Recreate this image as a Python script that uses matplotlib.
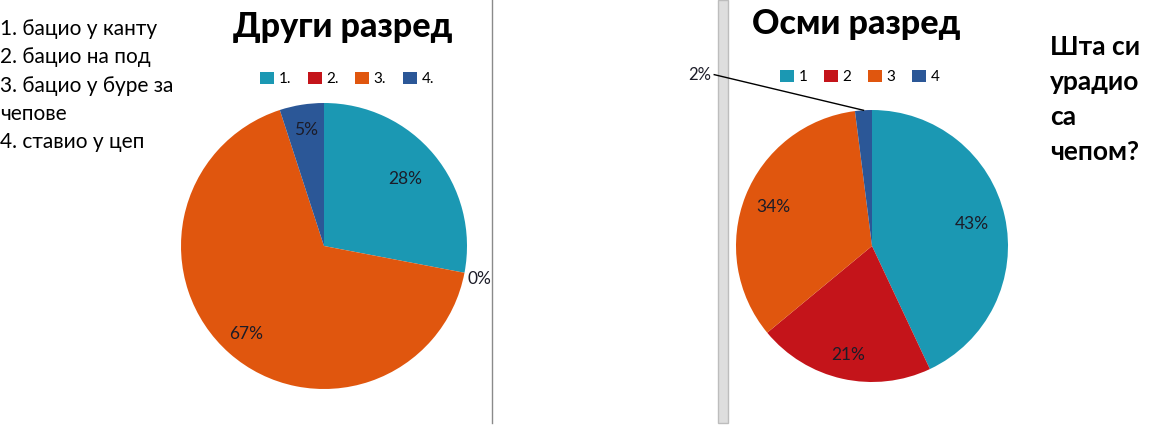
import numpy as np
import matplotlib
matplotlib.use('Agg')
import matplotlib.pyplot as plt
from matplotlib.patches import Patch, Rectangle

plt.rcParams['font.family'] = ['Lato', 'DejaVu Sans']

W, H = 1169, 442

# data
title_left = 'Други разред'
title_right = 'Осми разред'
legend_left = ['1.', '2.', '3.', '4.']
legend_right = ['1', '2', '3', '4']
values_left = [28, 0, 67, 5]
values_right = [43, 21, 34, 2]
answers = ['1. бацио у канту', '2. бацио на под', '3. бацио у буре за',
           'чепове', '4. ставио у цеп']
question = ['Шта си', 'урадио', 'са', 'чепом?']

colors = ['#1b98b3', '#c4141a', '#e0560e', '#2b5797']
label_color = '#1c1c28'


def px_axes(fig, cx, cy, r):
    # axes box in figure fraction from pixel centre / radius
    return fig.add_axes([(cx - r) / W, (H - cy - r) / H, 2 * r / W, 2 * r / H])


def draw_pie(ax, values, dists):
    wedges, _ = ax.pie(values, colors=colors, startangle=90, counterclock=False,
                       radius=1, wedgeprops=dict(linewidth=0))
    ax.set_xlim(-1, 1)
    ax.set_ylim(-1, 1)
    ax.set_aspect('equal')
    ax.axis('off')
    for w, v, d in zip(wedges, values, dists):
        if d is None:
            continue
        mid = np.radians((w.theta1 + w.theta2) / 2)
        ax.text(d * np.cos(mid), d * np.sin(mid), f'{v}%', ha='center', va='center',
                fontsize=12.5, color=label_color, clip_on=False)
    return wedges


fig = plt.figure(figsize=(W / 100, H / 100), dpi=100)

# background layer in pixel coordinates
bg = fig.add_axes([0, 0, 1, 1])
bg.set_xlim(0, W)
bg.set_ylim(H, 0)
bg.axis('off')

bg.plot([492, 492], [0, 423], color='#8a8a8a', lw=1)
bg.add_patch(Rectangle((718, 0), 10, 423, facecolor='#dedede', edgecolor='#bdbdbd', lw=1))

bg.text(343, 37, title_left, ha='center', va='baseline', fontsize=24.5, fontweight='black')
bg.text(856, 34, title_right, ha='center', va='baseline', fontsize=24.5, fontweight='black')

for i, line in enumerate(answers):
    bg.text(0, 29 + i * 28.3, line, ha='left', va='center', fontsize=15)

for i, line in enumerate(question):
    bg.text(1050, 47 + i * 35, line, ha='left', va='center', fontsize=19, fontweight='bold')

# left pie
ax1 = px_axes(fig, 324, 246, 143)
w1 = draw_pie(ax1, values_left, [0.74, None, 0.82, 0.82])
mid = np.radians((w1[1].theta1 + w1[1].theta2) / 2)
ax1.text(1.02 * np.cos(mid), 1.02 * np.sin(mid) - 0.04, f'{values_left[1]}%', ha='left',
         va='center', fontsize=12.5, color=label_color, clip_on=False)

# right pie
ax2 = px_axes(fig, 872, 246, 136)
w2 = draw_pie(ax2, values_right, [0.75, 0.82, 0.78, None])
mid = np.radians((w2[3].theta1 + w2[3].theta2) / 2)
lx, ly = -1.16, 1.26
ax2.plot([lx, np.cos(mid)], [ly, np.sin(mid)], color='black', lw=1, clip_on=False)
ax2.text(lx - 0.02, ly, f'{values_right[3]}%', ha='right', va='center', fontsize=12,
         color=label_color, clip_on=False)

# legends
h1 = [Patch(facecolor=c, edgecolor='none') for c in colors]
fig.legend(h1, legend_left, loc='center', bbox_to_anchor=(347 / W, 1 - 79 / H), ncol=4,
           frameon=False, fontsize=11, handlelength=0.9, handleheight=0.9,
           handletextpad=0.3, columnspacing=1.1)
fig.legend(h1, legend_right, loc='center', bbox_to_anchor=(860 / W, 1 - 77 / H), ncol=4,
           frameon=False, fontsize=11, handlelength=0.9, handleheight=0.9,
           handletextpad=0.3, columnspacing=1.1)

fig.savefig('out.png', dpi=100)
